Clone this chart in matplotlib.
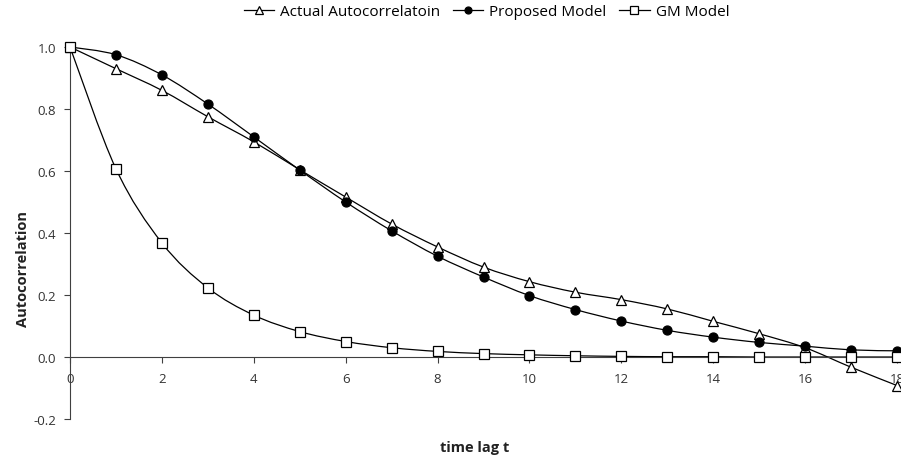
import numpy as np
import matplotlib
matplotlib.use("Agg")
from matplotlib import pyplot as plt
from matplotlib.path import Path
from matplotlib.patches import PathPatch
from matplotlib.lines import Line2D

plt.rcParams["font.family"] = ["Open Sans", "DejaVu Sans"]

lags = [0, 1, 2, 3, 4, 5, 6, 7, 8, 9, 10, 11, 12, 13, 14, 15, 16, 17, 18]
actual = [1.0, 0.93, 0.86, 0.775, 0.694, 0.604, 0.516, 0.429, 0.355, 0.29,
          0.243, 0.209, 0.185, 0.155, 0.115, 0.075, 0.03, -0.033, -0.092]
proposed = [1.0, 0.975, 0.91, 0.816, 0.71, 0.603, 0.5, 0.407, 0.325, 0.258,
            0.198, 0.153, 0.116, 0.086, 0.064, 0.047, 0.035, 0.023, 0.02]
gm = [1.0, 0.607, 0.368, 0.223, 0.135, 0.082, 0.05, 0.03, 0.018, 0.011,
      0.007, 0.004, 0.002, 0.001, 0.001, 0.0, 0.0, 0.0, 0.0]
xticks = [0, 2, 4, 6, 8, 10, 12, 14, 16, 18]
yticks = [-0.2, 0.0, 0.2, 0.4, 0.6, 0.8, 1.0]


def smooth_path(x, y, t=1 / 6):
    # catmull-rom style bezier through the points, like a spreadsheet smoothed line
    x = np.asarray(x, float)
    y = np.asarray(y, float)
    n = len(x)
    verts = [(x[0], y[0])]
    codes = [Path.MOVETO]
    for i in range(n - 1):
        p0 = i - 1 if i > 0 else i
        p3 = i + 2 if i + 2 < n else i + 1
        c1 = (x[i] + (x[i + 1] - x[p0]) * t, y[i] + (y[i + 1] - y[p0]) * t)
        c2 = (x[i + 1] - (x[p3] - x[i]) * t, y[i + 1] - (y[p3] - y[i]) * t)
        verts += [c1, c2, (x[i + 1], y[i + 1])]
        codes += [Path.CURVE4] * 3
    return Path(verts, codes)


fig = plt.figure(figsize=(9.01, 4.64), dpi=100)
ax = fig.add_axes([0.0777, 0.0948, 0.9179, 0.8018])

series = [
    (actual, dict(marker="^", mfc="white", mec="black", ms=7.5), "Actual Autocorrelatoin"),
    (proposed, dict(marker="o", mfc="black", mec="black", ms=6.5), "Proposed Model"),
    (gm, dict(marker="s", mfc="white", mec="black", ms=7), "GM Model"),
]
handles = []
for vals, mk, name in series:
    ax.add_patch(PathPatch(smooth_path(lags, vals), fc="none", ec="black", lw=0.9,
                           zorder=2, clip_on=False))
    ax.plot(lags, vals, ls="none", mew=0.9, zorder=3, clip_on=False, **mk)
    leg_mk = dict(mk, ms=mk["ms"] - 1.5)
    handles.append(Line2D([], [], color="black", lw=0.9, mew=0.9, label=name, **leg_mk))

ax.set_xlim(0, 18)
ax.set_ylim(-0.2, 1.0)
ax.spines["top"].set_visible(False)
ax.spines["right"].set_visible(False)
ax.spines["bottom"].set_position(("data", 0))
ax.spines["left"].set_color("#404040")
ax.spines["bottom"].set_color("#404040")

ax.set_xticks(xticks)
ax.set_yticks(yticks)
ax.set_yticklabels([f"{v:.1f}" for v in yticks])
ax.tick_params(axis="x", direction="out", length=4, pad=7, colors="#404040",
               labelcolor="#333333", labelsize=9.5)
ax.tick_params(axis="y", direction="out", length=4, pad=6, colors="#404040",
               labelcolor="#333333", labelsize=9.5)
for lab in ax.get_xticklabels():
    lab.set_clip_on(False)

fig.text(0.026, 0.42, "Autocorrelation", rotation=90, ha="center", va="center",
         fontsize=10.5, fontweight="bold", color="#222222")
fig.text(0.527, 0.035, "time lag t", ha="center", va="center",
         fontsize=10.5, fontweight="bold", color="#222222")

fig.legend(handles=handles, loc="center", bbox_to_anchor=(0.54, 0.972), ncol=3,
           frameon=False, fontsize=11, handlelength=2.0, handletextpad=0.4,
           columnspacing=0.8, borderaxespad=0)

fig.savefig("out.png", dpi=100)
